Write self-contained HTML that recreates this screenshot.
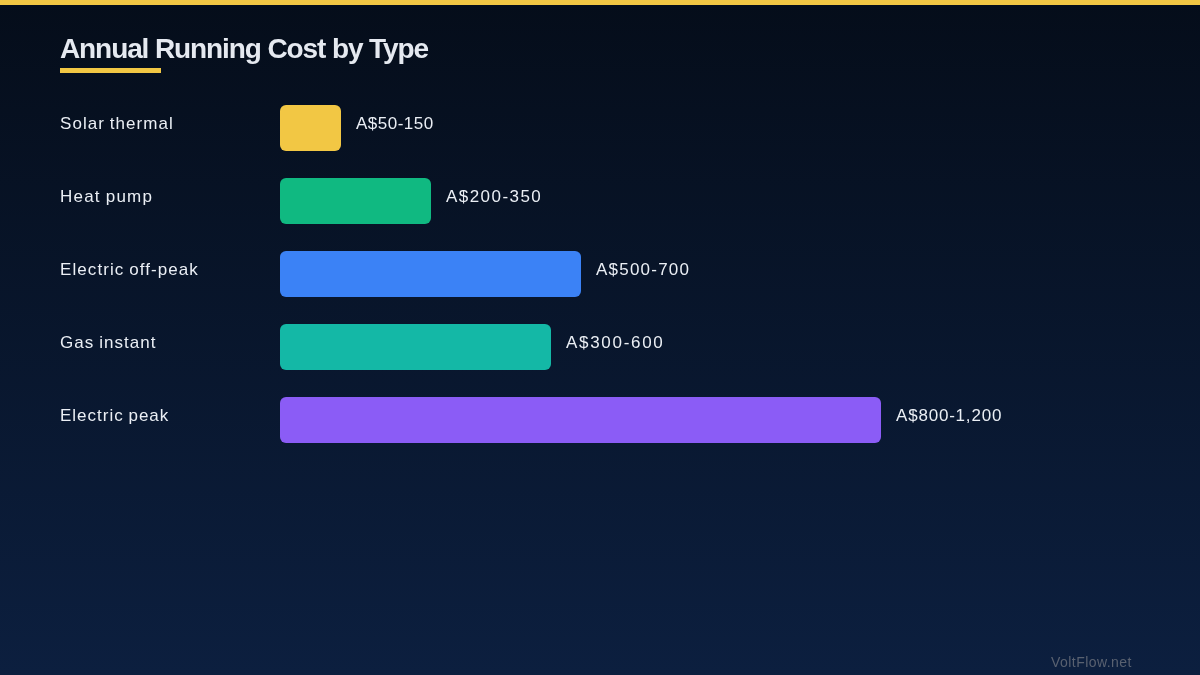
<!DOCTYPE html>
<html>
<head>
<meta charset="utf-8">
<style>
html,body{margin:0;padding:0;}
.title,.lab,.val,.foot{will-change:transform;-webkit-font-smoothing:antialiased;}
body{width:1200px;height:675px;overflow:hidden;position:relative;
  background:linear-gradient(180deg,#050d1a 0%,#0c1f3f 100%);
  font-family:"Liberation Sans",sans-serif;color:#ebeff5;}
.topbar{position:absolute;left:0;top:0;width:1200px;height:5px;background:#f2c744;}
.title{position:absolute;left:60px;top:34.7px;font-size:28px;line-height:28px;font-weight:bold;letter-spacing:-1.1px;color:#e5e9f0;white-space:nowrap;}
.uline{position:absolute;left:60px;top:68px;width:101px;height:5px;background:#f2c744;}
.lab{position:absolute;left:60px;word-spacing:-1px;font-size:17px;line-height:17px;white-space:nowrap;}
.val{position:absolute;font-size:17px;line-height:17px;white-space:nowrap;}
.bar{position:absolute;left:280px;height:46px;border-radius:6px;}
.foot{position:absolute;left:1050.5px;top:655px;font-size:14px;line-height:14px;color:#596170;letter-spacing:0.45px;white-space:nowrap;}
</style>
</head>
<body>
<div class="topbar"></div>
<div class="title">Annual Running Cost by Type</div>
<div class="uline"></div>

<div class="lab" style="top:114.6px;letter-spacing:1.05px">Solar thermal</div>
<div class="bar" style="top:105px;width:61px;background:#f2c744"></div>
<div class="val" style="left:356px;top:114.6px;letter-spacing:0.5px">A$50-150</div>

<div class="lab" style="top:187.6px;letter-spacing:1.22px">Heat pump</div>
<div class="bar" style="top:178px;width:151px;background:#10b981"></div>
<div class="val" style="left:446px;top:187.6px;letter-spacing:1.45px">A$200-350</div>

<div class="lab" style="top:260.6px;letter-spacing:1.08px">Electric off-peak</div>
<div class="bar" style="top:251px;width:301px;background:#3b82f6"></div>
<div class="val" style="left:596px;top:260.6px;letter-spacing:1.22px">A$500-700</div>

<div class="lab" style="top:333.6px;letter-spacing:1.06px">Gas instant</div>
<div class="bar" style="top:324px;width:271px;background:#14b8a6"></div>
<div class="val" style="left:566px;top:333.6px;letter-spacing:1.7px">A$300-600</div>

<div class="lab" style="top:406.6px;letter-spacing:1.0px">Electric peak</div>
<div class="bar" style="top:397px;width:601px;background:#8b5cf6"></div>
<div class="val" style="left:896px;top:406.6px;letter-spacing:0.8px">A$800-1,200</div>

<div class="foot">VoltFlow.net</div>
</body>
</html>
